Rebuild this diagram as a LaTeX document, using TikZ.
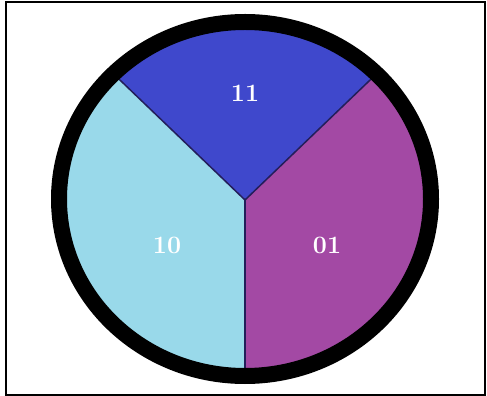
\documentclass[tikz,border=0pt]{standalone}
\usetikzlibrary{calc}
\definecolor{paleblue}{RGB}{153,217,234}
\definecolor{indigo}{RGB}{63,72,204}
\definecolor{plum}{RGB}{163,73,164}
\definecolor{divider}{RGB}{35,30,90}
\begin{document}
\begin{tikzpicture}[x=0.5pt,y=0.5pt,
  seglabel/.style={text=white, font=\fontsize{12.5}{15}\selectfont\bfseries},
  splitline/.style={divider, line width=0.75pt}]
  \useasboundingbox (0,0) rectangle (487,396);
  \draw[line width=1pt] (6,1) rectangle (485,394);

  \coordinate (hub) at (245,196);
  \coordinate (upleft) at ($(245,197)+(135:186 and 177)$);
  \coordinate (upright) at ($(245,197)+(45:186 and 177)$);
  \coordinate (bottom) at ($(245,197)+(270:186 and 177)$);

  % sectors
  \fill[indigo] (hub) -- (upleft) arc[start angle=135, end angle=45, x radius=186, y radius=177] -- cycle;
  \fill[paleblue] (hub) -- (bottom) arc[start angle=270, end angle=135, x radius=186, y radius=177] -- cycle;
  \fill[plum] (hub) -- (bottom) arc[start angle=270, end angle=405, x radius=186, y radius=177] -- cycle;

  % dividers
  \draw[splitline] (hub) -- (upleft);
  \draw[splitline] (hub) -- (upright);
  \draw[splitline] (hub) -- (bottom);

  % rim
  \draw[line width=8pt] (245,197) ellipse[x radius=186, y radius=177];

  \node[seglabel] (top) at (245,303) {11};
  \node[seglabel] (left) at (167,151) {10};
  \node[seglabel] (right) at (327,151) {01};
\end{tikzpicture}
\end{document}
